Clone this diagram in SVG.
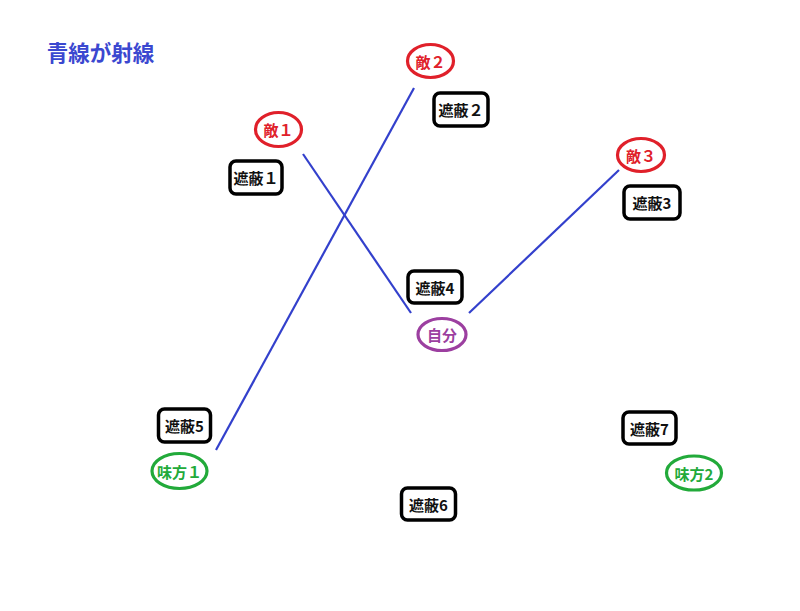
<svg xmlns="http://www.w3.org/2000/svg" width="800" height="611" viewBox="0 0 800 611">
<style>
text{font-family:"Noto Sans CJK JP","Noto Sans",sans-serif;font-size:15px;font-weight:bold;text-anchor:middle;dominant-baseline:central}
.box rect{fill:#fff;stroke:#000;stroke-width:3.5}
.box text{fill:#111}
.enemy ellipse{fill:#fff;stroke:#e0202a;stroke-width:3.2}
.enemy text{fill:#e0202a}
.ally ellipse{fill:#fff;stroke:#22aa3a;stroke-width:3.2}
.ally text{fill:#22aa3a}
.self ellipse{fill:#fff;stroke:#9c3fa0;stroke-width:3.2}
.self text{fill:#9c3fa0}
#lines line{stroke:#3340cc;stroke-width:2.2}
</style>
<rect width="800" height="611" fill="#fff"/>
<text x="100.5" y="51" style="font-size:21.5px;fill:#3b48d0">青線が射線</text>
<g id="lines">
<line x1="303" y1="154" x2="411" y2="313"/>
<line x1="414" y1="88" x2="216" y2="450"/>
<line x1="619" y1="170" x2="469" y2="313"/>
</g>
<g id="enemy1" class="enemy"><ellipse cx="278.5" cy="129.5" rx="23" ry="17"/><text x="278.5" y="129.5">敵１</text></g>
<g id="enemy2" class="enemy"><ellipse cx="430.5" cy="61" rx="23" ry="16.5"/><text x="430.5" y="61">敵２</text></g>
<g id="enemy3" class="enemy"><ellipse cx="641" cy="155" rx="23.5" ry="16.5"/><text x="641" y="155">敵３</text></g>
<g id="cover1" class="box"><rect x="230" y="161" width="52" height="33" rx="6"/><text x="256" y="177.5">遮蔽１</text></g>
<g id="cover2" class="box"><rect x="434" y="93" width="54" height="33" rx="6"/><text x="461" y="109.5">遮蔽２</text></g>
<g id="cover3" class="box"><rect x="624" y="186" width="56" height="33" rx="6"/><text x="652" y="202.5">遮蔽3</text></g>
<g id="cover4" class="box"><rect x="408" y="271" width="54" height="32" rx="6"/><text x="435" y="287">遮蔽4</text></g>
<g id="cover5" class="box"><rect x="158.5" y="409" width="52" height="33" rx="6"/><text x="184.5" y="425.5">遮蔽5</text></g>
<g id="cover6" class="box"><rect x="401.5" y="488" width="54" height="32" rx="6"/><text x="428.5" y="504">遮蔽6</text></g>
<g id="cover7" class="box"><rect x="623" y="412" width="53" height="32" rx="6"/><text x="649.5" y="428">遮蔽7</text></g>
<g id="self" class="self"><ellipse cx="442" cy="334.5" rx="24" ry="16"/><text x="442" y="334.5">自分</text></g>
<g id="ally1" class="ally"><ellipse cx="179.5" cy="471" rx="27.5" ry="17.5"/><text x="179.5" y="471">味方１</text></g>
<g id="ally2" class="ally"><ellipse cx="694" cy="473" rx="27.5" ry="17"/><text x="694" y="473">味方2</text></g>
</svg>
